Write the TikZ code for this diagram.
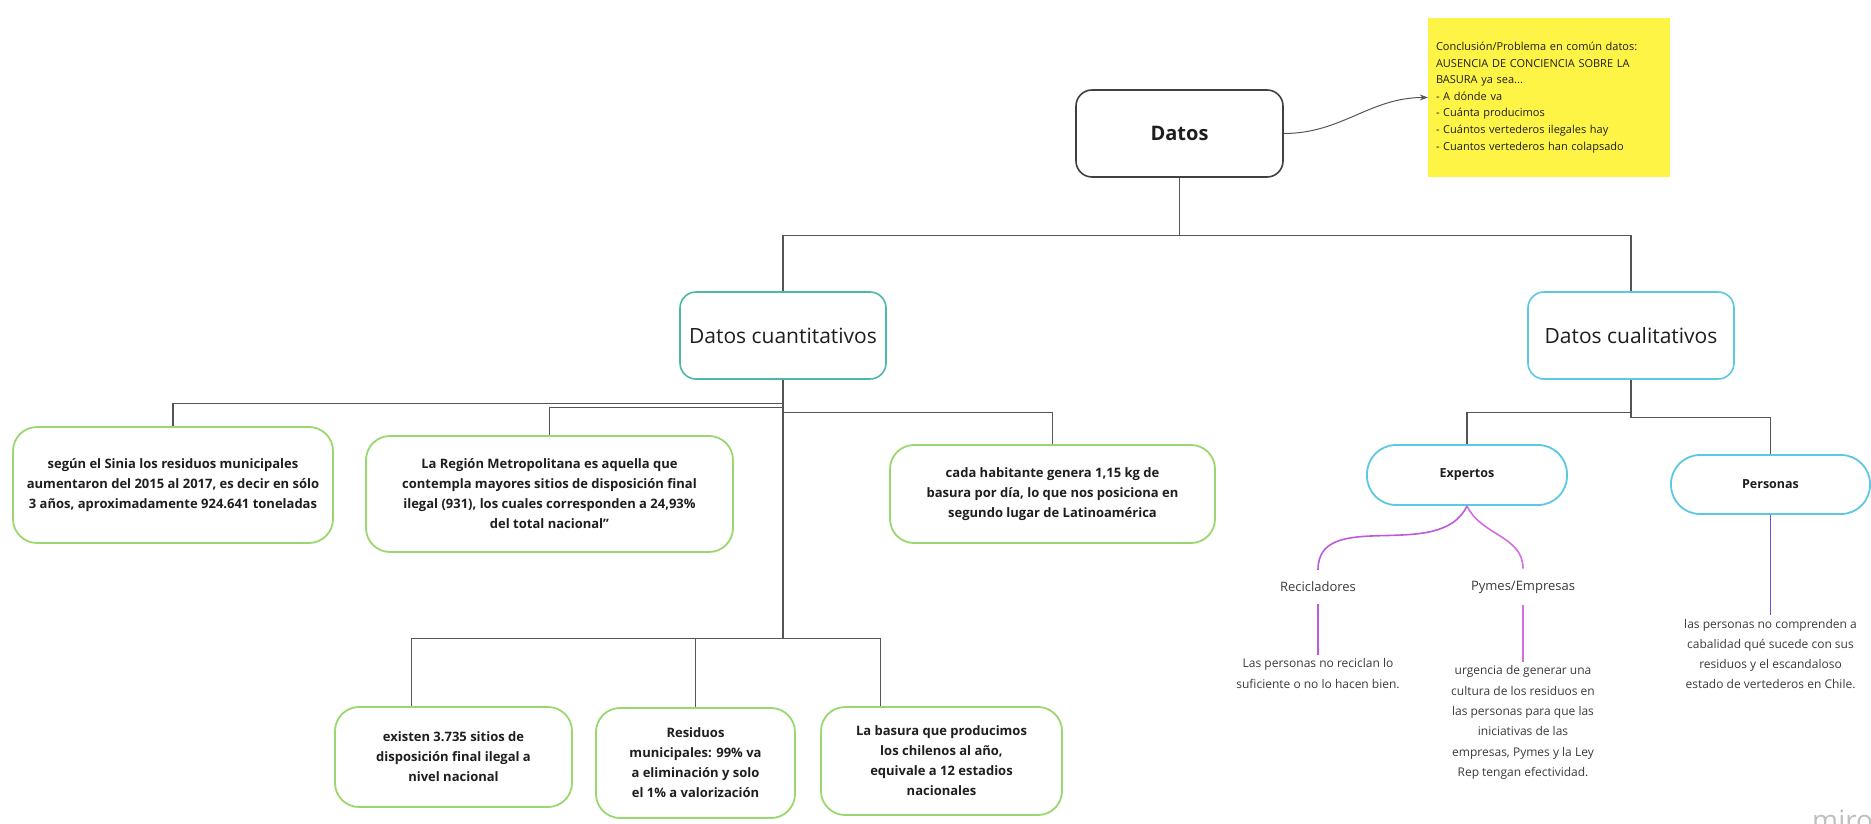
\documentclass[tikz,border=0pt]{standalone}
\usepackage{fontspec}
\setmainfont{Open Sans}
\usetikzlibrary{arrows.meta}
\definecolor{verde}{HTML}{9AD76F}
\definecolor{turquesa}{HTML}{4BB8A9}
\definecolor{celeste}{HTML}{5CC8E4}
\definecolor{amarillo}{HTML}{FEF445}
\definecolor{morado}{HTML}{BD5ADB}
\definecolor{rosado}{HTML}{D46CDE}
\definecolor{violeta}{HTML}{6E4FE0}
\definecolor{linea}{HTML}{555555}
\definecolor{texto}{HTML}{1E1E1E}
\definecolor{gristexto}{HTML}{3A3A3A}
\begin{document}
\begin{tikzpicture}[x=1pt,y=-1pt,
  raiz/.style={shape=rectangle,draw=texto!85,line width=1.6pt,rounded corners=16pt,minimum width=207pt,minimum height=87pt,font=\fontsize{20}{24}\selectfont\bfseries,text=texto},
  rama/.style={shape=rectangle,line width=1.6pt,rounded corners=16pt,minimum width=206pt,minimum height=87pt,font=\fontsize{21}{25}\selectfont,text=texto},
  caja/.style={shape=rectangle,draw=verde,line width=1.8pt,rounded corners=24pt,align=center,inner sep=2pt,font=\fontsize{13}{20}\selectfont\bfseries,text=texto},
  pildora/.style={shape=rectangle,draw=celeste,line width=1.8pt,rounded corners=29pt,minimum width=200pt,minimum height=60pt,font=\fontsize{12.5}{15}\selectfont\bfseries,text=texto},
  nota/.style={shape=rectangle,fill=amarillo,minimum width=242pt,minimum height=159pt,text width=226pt,align=left,font=\fontsize{11}{16.6}\selectfont,text=texto},
  etiqueta/.style={inner xsep=0pt,inner ysep=12pt,font=\fontsize{13}{16}\selectfont,text=gristexto},
  desc/.style={align=center,inner sep=4pt,font=\fontsize{12}{20.3}\selectfont,text=gristexto},
  conexion/.style={draw=linea,line width=1.3pt},
  curva/.style={line width=1.6pt},
  flecha/.style={-{Stealth[length=8pt,width=6pt]},draw=linea,line width=1pt}]
\useasboundingbox (0,0) rectangle (1871,824);
\node (datos) at (1179.5,133.5) [raiz]{Datos};
\node (nota) at (1549,97.5) [nota]{Conclusión/Problema en común datos:\\AUSENCIA DE CONCIENCIA SOBRE LA\\BASURA ya sea...\\- A dónde va\\- Cuánta producimos\\- Cuántos vertederos ilegales hay\\- Cuantos vertederos han colapsado};
\node (cuant) at (783,335.5) [rama,draw=turquesa]{Datos cuantitativos};
\node (cual) at (1631,335.5) [rama,draw=celeste]{Datos cualitativos};
\node (b1) at (173,485) [caja,minimum width=320pt,minimum height=116pt]{según el Sinia los residuos municipales\\aumentaron del 2015 al 2017, es decir en sólo\\3 años, aproximadamente 924.641 toneladas};
\node (b2) at (549.5,494) [caja,minimum width=367pt,minimum height=116pt]{La Región Metropolitana es aquella que\\contempla mayores sitios de disposición final\\ilegal (931), los cuales corresponden a 24,93\%\\del total nacional”};
\node (b3) at (1052.5,494) [caja,minimum width=325pt,minimum height=98pt]{cada habitante genera 1,15 kg de\\basura por día, lo que nos posiciona en\\segundo lugar de Latinoamérica};
\node (b4) at (453.5,757) [caja,minimum width=237pt,minimum height=100pt]{existen 3.735 sitios de\\disposición final ilegal a\\nivel nacional};
\node (b5) at (695.5,763) [caja,minimum width=199pt,minimum height=110pt]{Residuos\\municipales: 99\% va\\a eliminación y solo\\el 1\% a valorización};
\node (b6) at (941.5,761) [caja,minimum width=241pt,minimum height=108pt]{La basura que producimos\\los chilenos al año,\\equivale a 12 estadios\\nacionales};
\node (exp) at (1467,475) [pildora]{Expertos};
\node (pers) at (1770.5,484.5) [pildora,minimum width=199pt,minimum height=59pt]{Personas};
\node (recic) at (1318,587) [etiqueta]{Recicladores};
\node (pymes) at (1523,587) [etiqueta]{Pymes/Empresas};
\node (recicdesc) at (1318,673.5) [desc]{Las personas no reciclan lo\\suficiente o no lo hacen bien.};
\node (pymesdesc) at (1523,722.5) [desc]{urgencia de generar una\\cultura de los residuos en\\las personas para que las\\iniciativas de las\\empresas, Pymes y la Ley\\Rep tengan efectividad.};
\node (persdesc) at (1770.5,654) [desc]{las personas no comprenden a\\cabalidad qué sucede con sus\\residuos y el escandaloso\\estado de vertederos en Chile.};
\node (marca) at (1812,830) [anchor=base west,inner sep=0pt,font=\fontsize{28}{30}\selectfont,text=black!25]{miro};
\draw [flecha] (datos.east) to [out=0,in=180] (nota.west);
\draw [conexion] (datos.south) -- ++(0,58) -| (cuant.north);
\draw [conexion] (datos.south) -- ++(0,58) -| (cual.north);
\draw [conexion] (cuant.south) -- ++(0,24) -| (b1.north);
\draw [conexion] (cuant.south) -- ++(0,28) -| (b2.north);
\draw [conexion] (cuant.south) -- ++(0,33) -| (b3.north);
\draw [conexion] (cuant.south) -- ++(0,259) -| ([xshift=-42pt]b4.north);
\draw [conexion] (cuant.south) -- ++(0,259) -| (b5.north);
\draw [conexion] (cuant.south) -- ++(0,259) -| ([xshift=-61pt]b6.north);
\draw [conexion] (cual.south) -- ++(0,33) -| (exp.north);
\draw [conexion] (cual.south) -- ++(0,38) -| (pers.north);
\draw [curva,draw=morado] (exp.south) to [out=-115,in=90] (recic.north);
\draw [curva,draw=rosado] (exp.south) to [out=-65,in=90] (pymes.north);
\draw [curva,draw=morado] (recic.south) -- (recicdesc.north);
\draw [curva,draw=rosado] (pymes.south) -- (pymesdesc.north);
\draw [curva,draw=violeta] (pers.south) -- (persdesc.north);
\end{tikzpicture}
\end{document}
